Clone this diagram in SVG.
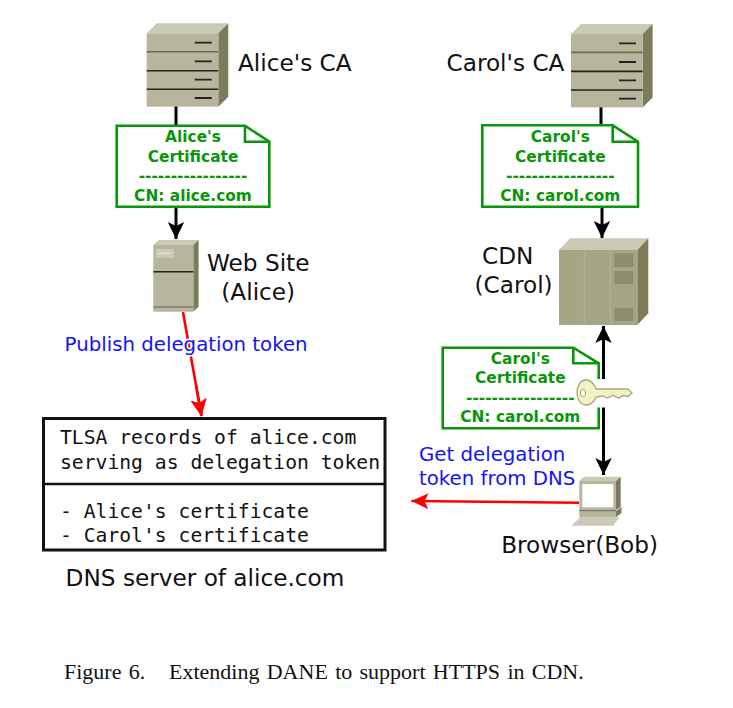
<svg xmlns="http://www.w3.org/2000/svg" width="733" height="708" viewBox="0 0 733 708">
<style>
text{font-family:"DejaVu Sans",sans-serif}
.lbl{font-size:23.2px;fill:#111}
.blue{font-size:19.75px;fill:#1414f0}
.cert{font-size:15.4px;font-weight:bold;fill:#0a960a;text-anchor:middle}
.mono{font-family:"DejaVu Sans Mono",monospace;font-size:19.7px;fill:#111}
.cap{font-family:"Liberation Serif",serif;font-size:22px;word-spacing:1.8px;fill:#111}
.doc{fill:#fff;stroke:#0a960a;stroke-width:2.6}
.fold{fill:none;stroke:#0a960a;stroke-width:2.6}
.f{fill:#b7b69c}.t{fill:#cbcab5}.s{fill:#7c7c5a}
.k{stroke:#222;stroke-width:1.6;fill:none}
.d{stroke:#222;stroke-width:1.8;fill:none}
.blk{stroke:#000;stroke-width:3;fill:none}
.red{stroke:#f00;stroke-width:2.6;fill:none}
</style>
<defs>
<marker id="ab" markerUnits="userSpaceOnUse" markerWidth="20" markerHeight="20" refX="17" refY="8.5" orient="auto-start-reverse"><path d="M0,0.3L17,8.5L0,16.7L4,8.5z" fill="#000"/></marker>
<marker id="ar" markerUnits="userSpaceOnUse" markerWidth="20" markerHeight="20" refX="17" refY="8.5" orient="auto"><path d="M0,0.5L17,8.5L0,16.5L4,8.5z" fill="#f00"/></marker>
<g id="rack">
<path class="t" d="M0,0L10,-10H81.6L71.6,0z"/><path class="s" d="M71.6,0L81.6,-10V63.4L71.6,73.4z"/><rect class="f" width="71.6" height="73.4"/>
<path class="k" style="stroke:#6b6b55" d="M0,18.4H71.6"/><path class="k" d="M0,37.4H71.6M0,56H71.6"/>
<path class="d" d="M48,9.4H65M48,28H65M48,46.4H65M48,64.7H65"/>
</g>
</defs>
<rect width="733" height="708" fill="#fff"/>

<g id="connectors">
<path class="blk" d="M176,106V127"/>
<path class="blk" marker-end="url(#ab)" d="M176,206V239"/>
<path class="blk" d="M601,106V127"/>
<path class="blk" marker-end="url(#ab)" d="M602,206V238"/>
<path class="blk" marker-start="url(#ab)" marker-end="url(#ab)" d="M603.5,326V475"/>
<path class="red" marker-end="url(#ar)" d="M183,312L201.5,416"/>
<path class="red" marker-end="url(#ar)" d="M579,502.7L411.5,501"/>
</g>

<g id="alice-ca"><use href="#rack" x="146.7" y="33.3"/></g>
<g id="carol-ca"><use href="#rack" x="571" y="34"/></g>
<text class="lbl" x="238" y="70.8">Alice's CA</text>
<text class="lbl" x="446.5" y="70.8">Carol's CA</text>

<g id="alice-cert">
<path class="doc" d="M116.7,125.7H245L269.3,141.7V206.7H116.7z"/><path class="fold" d="M245,125.7V141.7H269.3"/>
<text class="cert" x="193" y="142.3">Alice's</text><text class="cert" x="193" y="161.7">Certificate</text><text class="cert" x="193" y="181">-----------------</text><text class="cert" x="193" y="200.7">CN: alice.com</text>
</g>
<g id="carol-cert">
<path class="doc" d="M482.3,125.3H612.7L638,141.7V206.7H482.3z"/><path class="fold" d="M612.7,125.3V141.7H638"/>
<text class="cert" x="560.3" y="142">Carol's</text><text class="cert" x="560.3" y="161.5">Certificate</text><text class="cert" x="560.3" y="181">-----------------</text><text class="cert" x="560.3" y="200.5">CN: carol.com</text>
</g>

<g id="web-site">
<path class="t" d="M153.3,245L158.6,240H198.6L193.3,245z"/><path class="s" d="M193.3,245L198.6,240V306.7L193.3,311.7z"/><rect class="f" x="153.3" y="245" width="40" height="66.7"/>
<rect x="156" y="249" width="18" height="8.7" fill="#cbcab5"/><path stroke="#eee" stroke-width="0.8" d="M158,253.3H171"/>
<path class="k" d="M153.3,271.7H193.3"/><path stroke="#5f5f4c" stroke-width="1" d="M153.3,307H193.3"/>
</g>
<text class="lbl" x="207" y="270.7">Web Site</text><text class="lbl" x="221.3" y="300.3">(Alice)</text>

<g id="cdn">
<path class="t" d="M559,250L570,238.3H648.3L637.3,250z"/><path class="s" d="M637.3,250L648.3,238.3V313.3L637.3,325z"/><rect x="559" y="250" width="78.3" height="75" fill="#a7a684"/>
<path stroke="#bcbca3" stroke-width="0.6" d="M584.3,250V325M610.3,250V325M584.3,250L595,238.3M610.3,250L621,238.3"/>
<path fill="#8f8e6c" d="M614.3,253.3h19v14h-19zM614.3,271h19v13h-19zM614.3,307.7h19v13.3h-19z"/>
</g>
<text class="lbl" x="482" y="264">CDN</text><text class="lbl" x="474.5" y="293.3">(Carol)</text>

<g id="carol-cert-2">
<path class="doc" d="M442.7,347.7H573.3L598.7,363.3V428.3H442.7z"/><path class="fold" d="M573.3,347.7V363.3H598.7"/>
<text class="cert" x="520.3" y="363.5">Carol's</text><text class="cert" x="520.3" y="383">Certificate</text><text class="cert" x="520.3" y="402.5">-----------------</text><text class="cert" x="520.3" y="421.7">CN: carol.com</text>
</g>
<g id="key">
<path fill="#fff" d="M576,379H612V386H636V401H612V407.5H576z"/>
<path fill="#f3f2c4" stroke="#a9a87c" stroke-width="1.3" d="M586,380C591,380 594.5,385 596,389H628L632,393L628,396.5L623,395.5L619,398L613,395.5L607,398L603,396L596,397C594.5,401 591,405 586,405C580,405 577,399 577,392.5C577,386 580,380 586,380z"/>
<ellipse cx="583" cy="393" rx="2.6" ry="3.6" fill="#fff" stroke="#a9a87c"/>
</g>

<g id="browser">
<path class="t" d="M579.3,481L584,476.7H620.7L616,481z"/><path class="s" d="M616,481L620.7,476.7V507L616,510z"/>
<rect class="f" x="579.3" y="481" width="36.7" height="30"/><rect x="582.3" y="484" width="31" height="23.3" fill="#fff"/>
<rect class="f" x="579.3" y="511" width="36.7" height="6.3"/><path class="s" d="M616,511L621.5,507V513L616,517.3z"/><path stroke="#555" stroke-width="0.8" d="M579.3,510.7H616"/>
<path fill="#cbcab5" d="M571.7,525.7L580,517.3H619.3L613.3,525.7z"/>
</g>
<text class="lbl" x="501.2" y="553.2">Browser(Bob)</text>

<g id="dns-box">
<rect x="43.5" y="418.5" width="341.5" height="131.5" fill="#fff" stroke="#111" stroke-width="3"/>
<path stroke="#111" stroke-width="2.5" d="M43.5,484H385"/>
<text class="mono" x="60" y="444">TLSA records of alice.com</text>
<text class="mono" x="60" y="468.5">serving as delegation token</text>
<text class="mono" x="60" y="517.6">- Alice's certificate</text>
<text class="mono" x="60" y="542.2">- Carol's certificate</text>
</g>
<path class="red" marker-end="url(#ar)" d="M196,385L201.5,416"/>
<text class="lbl" x="65.6" y="585.7">DNS server of alice.com</text>
<g id="labels">
<text class="blue" x="64.6" y="350.7" stroke="#fff" stroke-width="3" paint-order="stroke">Publish delegation token</text>
<text class="blue" x="419" y="460.7">Get delegation</text>
<text class="blue" x="419" y="485">token from DNS</text>
</g>
<text class="cap" x="64" y="679">Figure 6.</text>
<text class="cap" x="169" y="679">Extending DANE to support HTTPS in CDN.</text>
</svg>
